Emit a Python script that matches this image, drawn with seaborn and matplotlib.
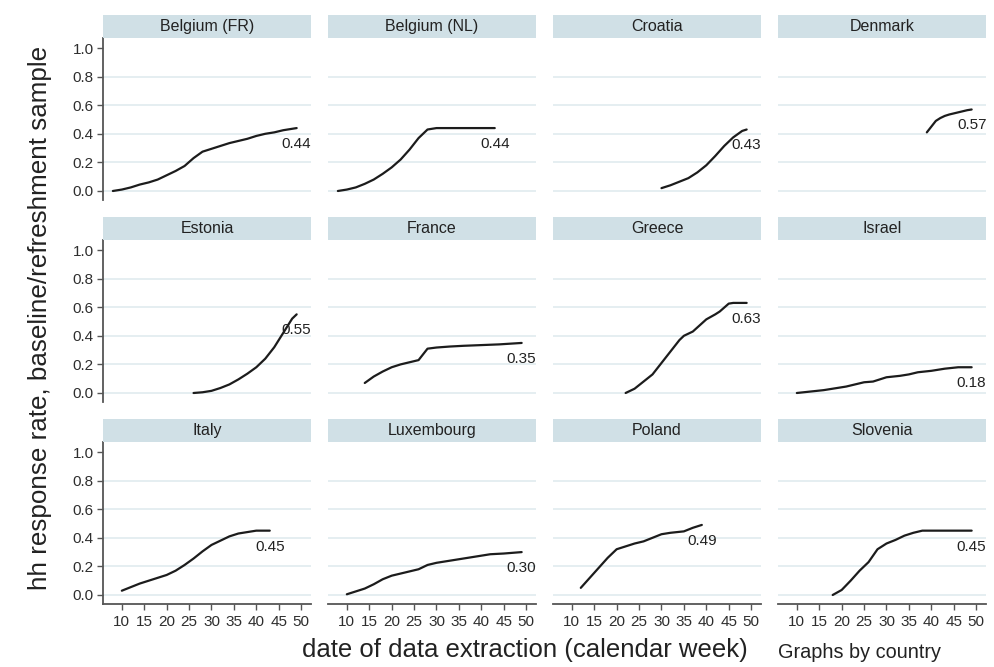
import matplotlib
matplotlib.use("Agg")
import matplotlib.pyplot as plt
import pandas as pd
import seaborn as sns
from matplotlib.patches import Rectangle

# ---- data: household response rate by calendar week of data extraction ----
countries = ["Belgium (FR)", "Belgium (NL)", "Croatia", "Denmark",
             "Estonia", "France", "Greece", "Israel",
             "Italy", "Luxembourg", "Poland", "Slovenia"]

bel_fr_week = [8, 10, 12, 14, 16, 18, 20, 22, 24, 26, 28, 30, 32, 34, 36, 38, 40, 42, 44, 46, 48, 49]
bel_fr_rate = [0.0, 0.01, 0.025, 0.045, 0.06, 0.08, 0.11, 0.14, 0.175, 0.23, 0.275, 0.295,
               0.315, 0.335, 0.35, 0.365, 0.385, 0.40, 0.41, 0.425, 0.435, 0.44]

bel_nl_week = [8, 10, 12, 14, 16, 18, 20, 22, 24, 26, 28, 30, 35, 40, 43]
bel_nl_rate = [0.0, 0.01, 0.025, 0.05, 0.08, 0.12, 0.165, 0.22, 0.29, 0.37, 0.43, 0.44, 0.44, 0.44, 0.44]

croatia_week = [30, 32, 34, 36, 38, 40, 42, 44, 46, 48, 49]
croatia_rate = [0.02, 0.04, 0.065, 0.09, 0.13, 0.18, 0.245, 0.315, 0.375, 0.42, 0.43]

denmark_week = [39, 40, 41, 42, 43, 44, 46, 48, 49]
denmark_rate = [0.41, 0.45, 0.49, 0.51, 0.525, 0.535, 0.55, 0.565, 0.57]

estonia_week = [26, 28, 30, 32, 34, 36, 38, 40, 42, 44, 46, 48, 49]
estonia_rate = [0.0, 0.005, 0.015, 0.035, 0.06, 0.095, 0.135, 0.18, 0.24, 0.32, 0.42, 0.52, 0.55]

france_week = [14, 16, 18, 20, 22, 24, 26, 27, 28, 30, 33, 36, 40, 44, 49]
france_rate = [0.07, 0.115, 0.15, 0.18, 0.20, 0.215, 0.23, 0.27, 0.31, 0.318, 0.325, 0.33, 0.335, 0.34, 0.35]

greece_week = [22, 24, 26, 28, 30, 32, 34, 35, 37, 40, 42, 43, 45, 46, 49]
greece_rate = [0.0, 0.03, 0.08, 0.13, 0.21, 0.29, 0.37, 0.40, 0.43, 0.515, 0.55, 0.57, 0.625, 0.63, 0.63]

israel_week = [10, 13, 16, 18, 21, 23, 25, 27, 29, 30, 33, 35, 37, 40, 43, 46, 49]
israel_rate = [0.0, 0.01, 0.02, 0.03, 0.045, 0.06, 0.075, 0.08, 0.10, 0.11, 0.12, 0.13,
               0.145, 0.155, 0.17, 0.18, 0.18]

italy_week = [10, 12, 14, 16, 18, 20, 22, 24, 26, 28, 30, 32, 34, 36, 38, 40, 43]
italy_rate = [0.03, 0.055, 0.08, 0.10, 0.12, 0.14, 0.17, 0.21, 0.255, 0.305, 0.35, 0.38,
              0.41, 0.43, 0.44, 0.45, 0.45]

luxembourg_week = [10, 12, 14, 16, 18, 20, 22, 24, 26, 28, 30, 33, 36, 39, 42, 45, 49]
luxembourg_rate = [0.005, 0.025, 0.045, 0.075, 0.11, 0.135, 0.15, 0.165, 0.18, 0.21, 0.225,
                   0.24, 0.255, 0.27, 0.285, 0.29, 0.30]

poland_week = [12, 14, 16, 18, 20, 22, 24, 26, 28, 30, 32, 35, 37, 39]
poland_rate = [0.05, 0.12, 0.19, 0.26, 0.32, 0.34, 0.36, 0.375, 0.40, 0.425, 0.435, 0.445, 0.47, 0.49]

slovenia_week = [18, 20, 22, 24, 26, 28, 30, 32, 34, 36, 38, 39, 44, 49]
slovenia_rate = [0.0, 0.035, 0.10, 0.17, 0.23, 0.32, 0.36, 0.385, 0.415, 0.435, 0.45, 0.45, 0.45, 0.45]

series = {
    "Belgium (FR)": (bel_fr_week, bel_fr_rate),
    "Belgium (NL)": (bel_nl_week, bel_nl_rate),
    "Croatia": (croatia_week, croatia_rate),
    "Denmark": (denmark_week, denmark_rate),
    "Estonia": (estonia_week, estonia_rate),
    "France": (france_week, france_rate),
    "Greece": (greece_week, greece_rate),
    "Israel": (israel_week, israel_rate),
    "Italy": (italy_week, italy_rate),
    "Luxembourg": (luxembourg_week, luxembourg_rate),
    "Poland": (poland_week, poland_rate),
    "Slovenia": (slovenia_week, slovenia_rate),
}

x_ticks = [10, 15, 20, 25, 30, 35, 40, 45, 50]
y_ticks = [0.0, 0.2, 0.4, 0.6, 0.8, 1.0]

df = pd.concat(
    [pd.DataFrame({"country": c, "week": w, "rate": r}) for c, (w, r) in series.items()],
    ignore_index=True,
)

# ---- style ----
sns.set_theme(style="white")
plt.rcParams["font.family"] = ["Liberation Sans", "DejaVu Sans"]

LINE = "#1c1c1c"
AXIS = "#555555"
GRID = "#e3edf0"
STRIP = "#d0e0e6"
TEXT = "#222222"
TICK_TXT = "#2e2e2e"

g = sns.FacetGrid(df, col="country", col_order=countries, col_wrap=4,
                  sharex=True, sharey=True, height=2, aspect=1.3)
g.map_dataframe(sns.lineplot, x="week", y="rate", color=LINE, linewidth=1.6,
                estimator=None, sort=True)

fig = g.figure
fig.set_size_inches(9.95, 6.67)
W, H = 995.0, 667.0

col_left = [103, 328, 553, 778]
row_top = [38, 240, 442]
ax_w, ax_h = 208, 162
strip_h = 23

for i, (ax, name) in enumerate(zip(g.axes.flat, countries)):
    r, c = divmod(i, 4)
    ax.set_position([col_left[c] / W, 1 - (row_top[r] + ax_h) / H, ax_w / W, ax_h / H])
    ax.set_xlim(5.8, 52.2)
    ax.set_ylim(-0.063, 1.07)
    ax.set_xlabel("")
    ax.set_ylabel("")
    ax.set_title("")
    ax.set_facecolor("white")

    for sp in ax.spines.values():
        sp.set_visible(False)

    ax.set_yticks(y_ticks)
    ax.set_xticks(x_ticks)
    ax.yaxis.grid(True, color=GRID, linewidth=1.3)
    ax.xaxis.grid(False)
    ax.set_axisbelow(True)
    ax.get_ygridlines()[-1].set_visible(False)

    if c == 0:
        ax.spines["left"].set_visible(True)
        ax.spines["left"].set_color(AXIS)
        ax.spines["left"].set_linewidth(1.3)
        ax.tick_params(axis="y", left=True, labelleft=True, length=4.5, width=1.0,
                       color=AXIS, pad=2, labelsize=11, labelcolor=TICK_TXT)
        ax.set_yticklabels([f"{v:.1f}" for v in y_ticks])
    else:
        ax.tick_params(axis="y", left=False, labelleft=False)

    if r == 2:
        ax.spines["bottom"].set_visible(True)
        ax.spines["bottom"].set_color(AXIS)
        ax.spines["bottom"].set_linewidth(1.3)
        ax.tick_params(axis="x", bottom=True, labelbottom=True, length=4.5, width=1.0,
                       color=AXIS, pad=3.5, labelsize=11, labelcolor=TICK_TXT)
        ax.set_xticklabels([str(v) for v in x_ticks])
    else:
        ax.tick_params(axis="x", bottom=False, labelbottom=False)

    # panel header strip
    ax.add_patch(Rectangle((0, 1), 1, strip_h / ax_h, transform=ax.transAxes,
                           facecolor=STRIP, edgecolor="none", clip_on=False, zorder=3))
    ax.text(0.5, 1 + (strip_h / 2) / ax_h, name, transform=ax.transAxes,
            ha="center", va="center", fontsize=11.5, color=TEXT, zorder=4)

    # final value label under the end of each line
    w, v = series[name]
    ax.annotate(f"{v[-1]:.2f}", xy=(w[-1], v[-1]), xytext=(0, -11.5),
                textcoords="offset points", ha="center", va="center",
                fontsize=11, color=TEXT)

fig.text(40 / W, 1 - 318 / H, "hh response rate, baseline/refreshment sample",
         rotation=90, ha="center", va="center", fontsize=18.7, color=TEXT)
fig.text(525 / W, 1 - 650 / H, "date of data extraction (calendar week)",
         ha="center", va="center", fontsize=18.5, color=TEXT)
fig.text(778 / W, 1 - 653 / H, "Graphs by country",
         ha="left", va="center", fontsize=14.3, color=TEXT)

fig.savefig("out.png", dpi=100, facecolor="white")
